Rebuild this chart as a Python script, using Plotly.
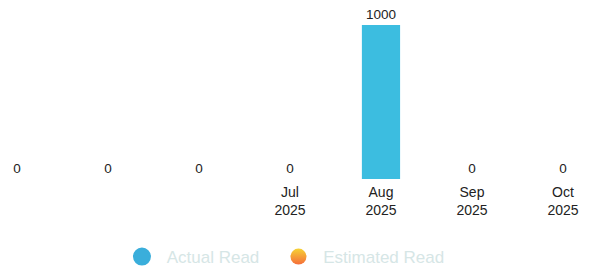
import plotly.graph_objects as go

categories = ["m1", "m2", "m3", "Jul 2025", "Aug 2025", "Sep 2025", "Oct 2025"]
tick_labels = ["", "", "", "Jul<br>2025", "Aug<br>2025", "Sep<br>2025", "Oct<br>2025"]
actual_read = [0, 0, 0, 0, 1000, 0, 0]
legend_names = ["Actual Read", "Estimated Read"]

FONT = "Liberation Sans, Arial, sans-serif"
NB = "\u00a0"

fig = go.Figure()
fig.add_trace(go.Bar(
    x=categories, y=actual_read, width=0.42,
    marker=dict(color="#3cbde0", line=dict(width=0)),
    text=[str(v) for v in actual_read], textposition="outside",
    textfont=dict(family=FONT, size=13.5, color="#222222"),
    cliponaxis=False, showlegend=False, hoverinfo="skip",
))
fig.add_trace(go.Scatter(
    x=[None], y=[None], mode="markers", name=NB + legend_names[0] + NB * 3,
    marker=dict(color="#3aaedb", size=18, line=dict(color="#3aaedb", width=2)),
))
fig.add_trace(go.Scatter(
    x=[None], y=[None], mode="markers", name=NB + legend_names[1],
    marker=dict(color="#f6d234", size=18, gradient=dict(type="vertical", color="#f56d3a"),
                line=dict(width=0)),
))

fig.update_layout(
    width=597, height=268,
    margin=dict(l=0, r=0, t=0, b=89, autoexpand=False),
    paper_bgcolor="white", plot_bgcolor="white",
    font=dict(family=FONT, size=13.5, color="#222222"),
    xaxis=dict(type="category", range=[-0.187, 6.374], tickvals=categories, ticktext=tick_labels,
               showgrid=False, zeroline=False, showline=False, ticks="", automargin=False,
               ticklabelstandoff=3,
               tickfont=dict(size=14, color="#222222")),
    yaxis=dict(range=[0, 1162], visible=False, automargin=False),
    legend=dict(orientation="h", x=0.479, xanchor="center", y=-0.436, yanchor="middle",
                font=dict(size=17, color="#d6e6e6"), itemsizing="trace"),
)
fig.write_html("out.html", config={"displayModeBar": False},
               post_script="document.body.style.margin='0';")
